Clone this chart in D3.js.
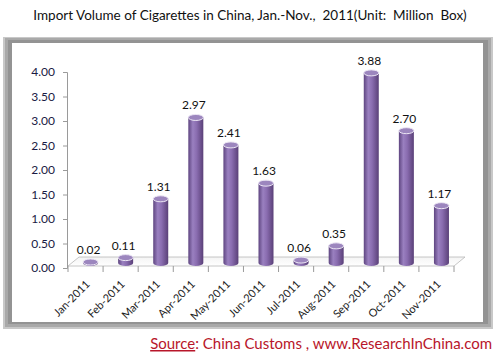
<!DOCTYPE html>
<html><head><meta charset="utf-8">
<script src="https://cdn.jsdelivr.net/npm/d3@7"></script>
<style>body{margin:0;background:#fff}svg{display:block}</style>
</head><body>
<script>
const categories = ["Jan-2011","Feb-2011","Mar-2011","Apr-2011","May-2011","Jun-2011","Jul-2011","Aug-2011","Sep-2011","Oct-2011","Nov-2011"];
const values = [0.02,0.11,1.31,2.97,2.41,1.63,0.06,0.35,3.88,2.70,1.17];
const yTicks = [0,0.5,1,1.5,2,2.5,3,3.5,4];
const title = "Import Volume of Cigarettes in China, Jan.-Nov.,  2011(Unit:  Million  Box)";

const W = 499, H = 355;
const svg = d3.select("body").append("svg").attr("width", W).attr("height", H);
const defs = svg.append("defs");

const gH = defs.append("linearGradient").attr("id","barGrad").attr("x1","0").attr("x2","1").attr("y1","0").attr("y2","0");
[[0,"#5e4580"],[0.3,"#9a80c0"],[0.55,"#8a6db0"],[1,"#5a4078"]].forEach(([o,c])=>gH.append("stop").attr("offset",o).attr("stop-color",c));
const gF = defs.append("linearGradient").attr("id","floorGrad").attr("x1","0").attr("x2","0").attr("y1","0").attr("y2","1");
[[0,"#f4f4f4"],[1,"#ffffff"]].forEach(([o,c])=>gF.append("stop").attr("offset",o).attr("stop-color",c));

// title
svg.append("text").attr("x", 250).attr("y", 20).attr("text-anchor","middle")
  .style("white-space","pre")
  .style("font-family","Lato").style("font-size","13.5px").attr("fill","#111").text(title);

// frame
svg.append("rect").attr("x",3).attr("y",37).attr("width",490).attr("height",292).attr("fill","#c8c8c8");
svg.append("rect").attr("x",5).attr("y",38).attr("width",486).attr("height",289).attr("fill","#a9a9a9");
svg.append("rect").attr("x",8).attr("y",40).attr("width",480).attr("height",284).attr("fill","#939393");
svg.append("rect").attr("x",12).attr("y",43).attr("width",471).attr("height",279).attr("fill","#fff");

const x = d3.scaleBand().domain(categories).range([68,454]).padding(0);
const y = d3.scaleLinear().domain([0,4]).range([268,72]);
const DX = 5, DY = -5, FDX = 11, FDY = -9;

// floor
const y0 = y(0);
svg.append("path")
  .attr("d", `M${x.range()[0]},${y0-2} L${x.range()[1]},${y0-2} L${x.range()[1]+FDX},${y0-2+FDY} L${x.range()[0]+FDX},${y0-2+FDY} Z`)
  .attr("fill","url(#floorGrad)").attr("stroke","#b8b8b8").attr("stroke-width",0.8);

// y axis
const yAxis = d3.axisLeft(y).tickValues(yTicks).tickFormat(d3.format(".2f")).tickSize(4).tickPadding(8);
const ya = svg.append("g").attr("transform","translate(67,0)").call(yAxis);
ya.select(".domain").attr("stroke","#9a9a9a");
ya.selectAll(".tick line").attr("stroke","#9a9a9a");
ya.selectAll("text").style("font-family","Lato").style("font-size","12px").attr("fill","#1a1a44");

// x axis
const xAxis = d3.axisBottom(x).tickSize(4).tickFormat("");
const xa = svg.append("g").attr("transform",`translate(0,${y0})`).call(xAxis);
xa.select(".domain").remove();
xa.selectAll(".tick line").remove();
const edges = categories.map((c,i)=>x(c)).concat([x.range()[1]]);
xa.selectAll("line.edge").data(edges).enter().append("line").attr("class","edge")
  .attr("x1",d=>d).attr("x2",d=>d).attr("y1",-2).attr("y2",4).attr("stroke","#9a9a9a");
svg.append("g").selectAll("text").data(categories).enter().append("text")
  .attr("transform", d=>`translate(${x(d)+x.bandwidth()/2+5},${y0+17}) rotate(-45)`)
  .attr("text-anchor","end")
  .style("font-family","Lato").style("font-size","11px").attr("fill","#222").text(d=>d);

// bars (cylinders)
const rx = 7.5, ry = 3;
const bars = svg.append("g").selectAll("g").data(values).enter().append("g");
bars.each(function(v,i){
  const g = d3.select(this);
  const cx = x(categories[i]) + x.bandwidth()/2 + DX;
  const yt = y(v) + DY, yb = y(0) + DY;
  g.append("path")
    .attr("d", `M${cx-rx},${yt} L${cx-rx},${yb} A${rx},${ry} 0 0 0 ${cx+rx},${yb} L${cx+rx},${yt} Z`)
    .attr("fill","url(#barGrad)");
  g.append("ellipse").attr("cx",cx).attr("cy",yt).attr("rx",rx).attr("ry",ry)
    .attr("fill","#9c86be").attr("stroke","#ece6f4").attr("stroke-width",1);
  g.append("text").attr("x",cx-2).attr("y",yt-8).attr("text-anchor","middle")
    .style("font-family","Lato").style("font-size","12px").attr("fill","#111").text(d3.format(".2f")(v));
});

// source
const src = svg.append("text").attr("x",492).attr("y",349).attr("text-anchor","end")
  .style("font-family","Lato").style("font-size","15px").attr("fill","#b8162a");
src.append("tspan").attr("text-decoration","underline").text("Source");
src.append("tspan").text(": China Customs , www.ResearchInChina.com");
</script>
</body></html>
